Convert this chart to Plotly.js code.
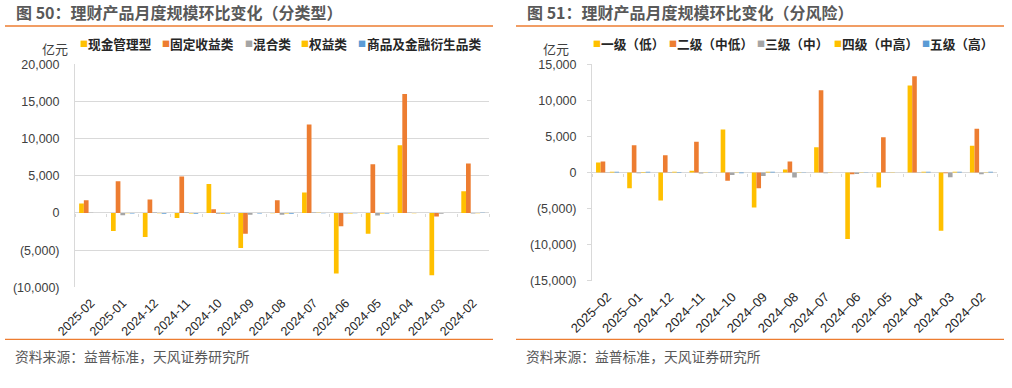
<!DOCTYPE html>
<html>
<head>
<meta charset="utf-8">
<script src="https://cdn.plot.ly/plotly-3.0.1.min.js"></script>
<style>
  html, body { margin: 0; padding: 0; background: #fff; }
  #chart { width: 1012px; height: 388px; }
</style>
</head>
<body>
<div id="chart"></div>
<script>
// ---------- Data ----------
const catsL = ["2025-02","2025-01","2024-12","2024-11","2024-10","2024-09","2024-08","2024-07","2024-06","2024-05","2024-04","2024-03","2024-02"];
const catsR = ["2025–02","2025–01","2024–12","2024–11","2024–10","2024–09","2024–08","2024–07","2024–06","2024–05","2024–04","2024–03","2024–02"];

// 图50 分类型 (亿元)
const seriesNamesL = ["现金管理型","固定收益类","混合类","权益类","商品及金融衍生品类"];
const cashMgmt   = [1265, -2420, -3230, -670, 3900, -4710, -50, 2740, -8160, -2780, 9110, -8390, 2920];
const fixedInc   = [1710, 4270, 1800, 4900, 500, -2780, 1710, 11900, -1790, 6550, 16020, -490, 6650];
const mixed      = [20, -300, 60, 80, -120, -250, -250, 60, -80, -350, 30, -100, -60];
const equity     = [10, -30, -40, -60, -100, -20, -60, 20, -60, -60, -40, -20, -40];
const commodity  = [10, -60, -90, -90, -80, -70, -90, -30, -50, -80, 10, -20, 20];

// 图51 分风险 (亿元)
const seriesNamesR = ["一级（低）","二级（中低）","三级（中）","四级（中高）","五级（高）"];
const risk1 = [1385, -2170, -3870, 235, 5960, -4850, 420, 3510, -9230, -2070, 12050, -8070, 3700];
const risk2 = [1525, 3790, 2400, 4250, -1150, -2170, 1525, 11400, -250, 4900, 13350, -100, 6050];
const risk3 = [30, -100, 60, -150, -350, -500, -700, -120, -200, 20, 50, -650, -250];
const risk4 = [90, 60, 100, 40, -30, 110, 40, 20, -30, 20, 100, 110, 40];
const risk5 = [90, 90, 70, 20, -90, 90, 30, 10, 20, 10, 100, 110, 110];

const yTicksL = [-10000, -5000, 0, 5000, 10000, 15000, 20000];
const yTicksR = [-15000, -10000, -5000, 0, 5000, 10000, 15000];

// ---------- Style ----------
const colors = ["#FFC000", "#ED7D31", "#A5A5A5", "#FFC000", "#5B9BD5"];
const W = 1012, H = 388;
const px = v => v / W;
const py = v => 1 - v / H;
const cjk = "Noto Sans CJK SC, Noto Sans, sans-serif";
const num = "Liberation Sans, Arial, sans-serif";

function fmt(v) {
  const s = Math.abs(v).toLocaleString("en-US");
  return v < 0 ? "(" + s + ")" : s;
}

const seriesL = [cashMgmt, fixedInc, mixed, equity, commodity];
const seriesR = [risk1, risk2, risk3, risk4, risk5];

const traces = [];
seriesL.forEach((s, i) => traces.push({
  type: "bar", x: catsL, y: s, name: seriesNamesL[i], xaxis: "x", yaxis: "y",
  marker: { color: colors[i] }, showlegend: false, hoverinfo: "x+y"
}));
seriesR.forEach((s, i) => traces.push({
  type: "bar", x: catsR, y: s, name: seriesNamesR[i], xaxis: "x2", yaxis: "y2",
  marker: { color: colors[i] }, showlegend: false, hoverinfo: "x+y"
}));
// helper traces for category-boundary ticks on the zero line
traces.push({ type: "scatter", x: [null], y: [null], xaxis: "x3", yaxis: "y", showlegend: false, hoverinfo: "skip" });
traces.push({ type: "scatter", x: [null], y: [null], xaxis: "x4", yaxis: "y2", showlegend: false, hoverinfo: "skip" });

const bounds = [];
for (let i = 0; i <= catsL.length; i++) bounds.push(i - 0.5);

const domLx = [px(75), px(489)];
const domRx = [px(592), px(997)];
const domLy = [py(287.3), py(64.3)];
const domRy = [py(280.7), py(64.3)];

const xCommon = {
  type: "category", tickangle: -45, ticks: "", showgrid: false, showline: false, zeroline: false,
  ticklabelstandoff: 5, fixedrange: true
};

const layout = {
  width: W, height: H,
  margin: { l: 0, r: 0, t: 0, b: 0 },
  paper_bgcolor: "#fff", plot_bgcolor: "#fff",
  barmode: "group", bargap: 0.26, bargroupgap: 0,
  showlegend: false,
  xaxis: Object.assign({}, xCommon, { domain: domLx, anchor: "y",
    tickfont: { family: num, size: 12.5, color: "#262626" } }),
  xaxis2: Object.assign({}, xCommon, { domain: domRx, anchor: "y2",
    tickfont: { family: num, size: 13, color: "#262626" } }),
  xaxis3: {
    type: "linear", domain: domLx, overlaying: "x", anchor: "free",
    position: (domLy[0] + (domLy[1] - domLy[0]) * (10000 / 30000)),
    range: [-0.5, catsL.length - 0.5], tickmode: "array", tickvals: bounds,
    showticklabels: false, ticks: "outside", ticklen: 3, tickcolor: "#d9d9d9",
    showgrid: false, showline: false, zeroline: false
  },
  xaxis4: {
    type: "linear", domain: domRx, overlaying: "x2", anchor: "free",
    position: (domRy[0] + (domRy[1] - domRy[0]) * 0.5),
    range: [-0.5, catsR.length - 0.5], tickmode: "array", tickvals: bounds,
    showticklabels: false, ticks: "outside", ticklen: 3, tickcolor: "#d9d9d9",
    showgrid: false, showline: false, zeroline: false
  },
  yaxis: {
    domain: domLy, anchor: "x", range: [-10000, 20000],
    tickmode: "array", tickvals: yTicksL, ticktext: yTicksL.map(fmt),
    showgrid: true, gridcolor: "#d9d9d9", gridwidth: 1,
    zeroline: true, zerolinecolor: "#d9d9d9", zerolinewidth: 1,
    showline: true, linecolor: "#d9d9d9", ticks: "", ticklabelstandoff: 12,
    tickfont: { family: num, size: 12.5, color: "#404040" }, fixedrange: true
  },
  yaxis2: {
    domain: domRy, anchor: "x2", range: [-15000, 15000],
    tickmode: "array", tickvals: yTicksR, ticktext: yTicksR.map(fmt),
    showgrid: false, zeroline: true, zerolinecolor: "#d9d9d9", zerolinewidth: 1,
    showline: true, linecolor: "#d9d9d9", ticks: "outside", ticklen: 4, tickcolor: "#d9d9d9",
    ticklabelstandoff: 8,
    tickfont: { family: num, size: 12.5, color: "#404040" }, fixedrange: true
  },
  shapes: [
    { type: "line", xref: "paper", yref: "paper", x0: px(5), x1: px(493), y0: py(26), y1: py(26), line: { color: "#ED7D31", width: 1.3 } },
    { type: "line", xref: "paper", yref: "paper", x0: px(516), x1: px(1004), y0: py(26), y1: py(26), line: { color: "#ED7D31", width: 1.3 } },
    { type: "line", xref: "paper", yref: "paper", x0: px(5), x1: px(493), y0: py(339.3), y1: py(339.3), line: { color: "#ED7D31", width: 1.3 } },
    { type: "line", xref: "paper", yref: "paper", x0: px(516), x1: px(1004), y0: py(339.3), y1: py(339.3), line: { color: "#ED7D31", width: 1.3 } }
  ],
  annotations: []
};

function ann(text, x, y, font, extra) {
  layout.annotations.push(Object.assign({
    text: text, xref: "paper", yref: "paper", x: px(x), y: py(y),
    xanchor: "left", yanchor: "middle", showarrow: false, font: font
  }, extra || {}));
}

// titles
ann("图 50：理财产品月度规模环比变化（分类型）", 14, 12.5, { family: cjk, size: 16, color: "#595959", weight: 700 });
ann("图 51：理财产品月度规模环比变化（分风险）", 525, 12.5, { family: cjk, size: 16, color: "#595959", weight: 700 });
// unit labels
ann("亿元", 40, 48, { family: cjk, size: 13, color: "#404040" });
ann("亿元", 541, 48, { family: cjk, size: 13, color: "#404040" });
// sources
ann("资料来源：益普标准，天风证券研究所", 13, 356, { family: cjk, size: 13.8, color: "#595959" });
ann("资料来源：益普标准，天风证券研究所", 524, 356, { family: cjk, size: 13.8, color: "#595959" });

// legends
const legL = [[80, 88], [162, 170], [245, 253], [301, 309], [358, 367]];
const legR = [[593, 601], [669, 677], [757, 765], [834, 842], [922, 930]];
seriesNamesL.forEach((n, i) => {
  ann("■", legL[i][0] - 2, 43.5, { family: cjk, size: 8, color: colors[i] });
  ann(n, legL[i][1] - 2, 43, { family: cjk, size: 12.7, color: "#262626", weight: 700 });
});
seriesNamesR.forEach((n, i) => {
  ann("■", legR[i][0] - 2, 43.5, { family: cjk, size: 8, color: colors[i] });
  ann(n, legR[i][1] - 2, 43, { family: cjk, size: 12.7, color: "#262626", weight: 700 });
});

Plotly.newPlot("chart", traces, layout, { displayModeBar: false, staticPlot: true });
</script>
</body>
</html>
